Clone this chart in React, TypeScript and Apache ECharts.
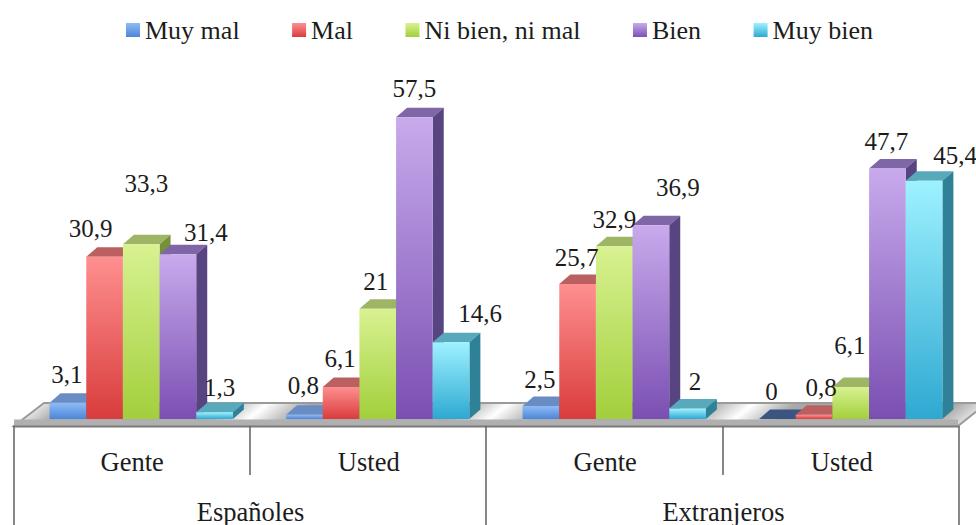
import React, { useEffect, useRef } from "react";
import * as echarts from "echarts";

const groupLabels = ["Gente", "Usted", "Gente", "Usted"];
const nationalityLabels = ["Españoles", "Extranjeros"];
const seriesNames = ["Muy mal", "Mal", "Ni bien, ni mal", "Bien", "Muy bien"];

const muyMal = [3.1, 0.8, 2.5, 0];
const mal = [30.9, 6.1, 25.7, 0.8];
const niBienNiMal = [33.3, 21, 32.9, 6.1];
const bien = [31.4, 57.5, 36.9, 47.7];
const muyBien = [1.3, 14.6, 2, 45.4];
const seriesValues = [muyMal, mal, niBienNiMal, bien, muyBien];

// label nudges relative to the top centre of each bar [dx, dy]
const labelNudges = [
  [[-1, -28], [-1, -29], [-1, -26], [-6, -28]],
  [[-14, -28], [-1, -28], [-1, -27], [7, -27]],
  [[5, -61], [-2, -27], [0, -27], [-1, -41]],
  [[28, -22], [0, -29], [27, -38], [-1, -27]],
  [[5, -25], [29, -29], [7.5, -27.5], [31, -25]],
];

const frontTop = ["#8fbcf5", "#ff8f8f", "#d8f291", "#c8aaec", "#9ef2ff"];
const frontBottom = ["#4c86d8", "#d93c3c", "#a2cf3c", "#7a4fb2", "#2ea8d2"];
const topFace = ["#6a8cc4", "#bb6060", "#9fb566", "#7f66a6", "#58a9bc"];
const sideFace = ["#3f6a9f", "#8f3535", "#74913a", "#574480", "#2f8198"];
const emptyTopFace = "#3b5580";

const FONT = '"Liberation Serif", serif';
const FS = 25;
const FS_LEGEND = 26;
const FS_AXIS = 26.5;
const DEPTH_X = 11;
const DEPTH_Y = 9.5;

const vGrad = (a: string, b: string) =>
  new echarts.graphic.LinearGradient(0, 0, 0, 1, [
    { offset: 0, color: a },
    { offset: 1, color: b },
  ]);

const floorGradient = () => {
  const g = "#a8a8a8";
  const w = "#ffffff";
  return new echarts.graphic.LinearGradient(
    14, 426, 389, 895,
    [
      { offset: 0, color: "#e6e6e6" },
      { offset: 0.03, color: g },
      { offset: 0.19, color: g },
      { offset: 0.235, color: w },
      { offset: 0.28, color: g },
      { offset: 0.44, color: g },
      { offset: 0.485, color: w },
      { offset: 0.53, color: g },
      { offset: 0.695, color: g },
      { offset: 0.74, color: w },
      { offset: 0.785, color: g },
      { offset: 0.95, color: g },
      { offset: 1, color: w },
    ],
    true as any
  );
};

const makeSeries = (s: number) => ({
  type: "custom",
  name: seriesNames[s],
  clip: false,
  itemStyle: { color: vGrad(frontTop[s], frontBottom[s]) },
  data: seriesValues[s].map((v, i) => [i, v]),
  encode: { x: 0, y: 1 },
  renderItem: (params: any, api: any) => {
    const cat = api.value(0);
    const val = api.value(1);
    const bw = api.size([1, 0])[0] * 0.155;
    const base = api.coord([cat, 0]);
    const top = api.coord([cat, val]);
    const xc = base[0] + 9 + (s - 2) * bw;
    const x0 = xc - bw / 2;
    const x1 = xc + bw / 2;
    const yb = base[1];
    const yt = top[1];
    const nudge = labelNudges[s][cat];
    const children: any[] = [
      {
        type: "polygon",
        shape: { points: [[x0, yt], [x0 + DEPTH_X, yt - DEPTH_Y], [x1 + DEPTH_X, yt - DEPTH_Y], [x1, yt]] },
        style: { fill: val > 0 ? topFace[s] : emptyTopFace },
      },
      {
        type: "polygon",
        shape: { points: [[x1, yt], [x1 + DEPTH_X, yt - DEPTH_Y], [x1 + DEPTH_X, yb - DEPTH_Y], [x1, yb]] },
        style: { fill: sideFace[s] },
      },
    ];
    if (val > 0) {
      children.push({
        type: "rect",
        shape: { x: x0, y: yt, width: bw, height: yb - yt },
        style: { fill: vGrad(frontTop[s], frontBottom[s]) },
      });
    }
    children.push({
      type: "text",
      z2: 100,
      style: {
        text: String(val).replace(".", ","),
        x: xc + nudge[0],
        y: yt + nudge[1],
        font: `${FS}px ${FONT}`,
        fill: "#1c1c1c",
        align: "center",
        verticalAlign: "middle",
      },
    });
    return { type: "group", children };
  },
});

const vline = (x: number, y2: number) => ({
  type: "line",
  z: 1,
  shape: { x1: x, y1: 426, x2: x, y2 },
  style: { stroke: "#6a6a6a", lineWidth: 1.6 },
});

export default function App() {
  const ref = useRef<HTMLDivElement>(null);
  useEffect(() => {
    const chart = echarts.init(ref.current!, null, { renderer: "svg" });
    chart.setOption({
      animation: false,
      backgroundColor: "#ffffff",
      legend: {
        left: 126,
        top: 17,
        padding: 0,
        itemWidth: 14,
        itemHeight: 14,
        itemGap: 52.5,
        icon: "rect",
        selectedMode: false,
        textStyle: { fontFamily: FONT, fontSize: FS_LEGEND, color: "#1c1c1c" },
        data: seriesNames,
      },
      grid: { left: 14, right: 16, top: 104, bottom: 106 },
      xAxis: [
        {
          type: "category",
          data: groupLabels,
          axisLine: { show: false },
          axisTick: { show: false },
          axisLabel: { margin: 29, fontFamily: FONT, fontSize: FS_AXIS, color: "#1c1c1c", interval: 0 },
        },
        {
          type: "category",
          data: nationalityLabels,
          position: "bottom",
          axisLine: { show: false },
          axisTick: { show: false },
          axisLabel: { margin: 79, fontFamily: FONT, fontSize: FS_AXIS, color: "#1c1c1c", interval: 0 },
        },
      ],
      yAxis: { type: "value", min: 0, max: 60, show: false },
      graphic: [
        {
          type: "polygon",
          z: 0,
          shape: { points: [[14, 426], [44, 403], [987, 403], [958, 426]] },
          style: { fill: floorGradient(), stroke: "#9a9a9a", lineWidth: 2 },
        },
        {
          type: "rect",
          z: 0,
          shape: { x: 14, y: 419.5, width: 944, height: 6.5 },
          style: { fill: "#b0b0b0" },
        },
        {
          type: "line",
          z: 1,
          shape: { x1: 13, y1: 426.5, x2: 959, y2: 426.5 },
          style: { stroke: "#7a7a7a", lineWidth: 2 },
        },
        vline(14, 525),
        vline(250, 475),
        vline(486, 525),
        vline(723, 475),
        vline(959, 525),
      ],
      series: seriesNames.map((_, s) => makeSeries(s)),
    });
    return () => chart.dispose();
  }, []);
  return (
    <div
      ref={ref}
      style={{ position: "absolute", left: 0, top: 0, width: 976, height: 525 }}
    />
  );
}
